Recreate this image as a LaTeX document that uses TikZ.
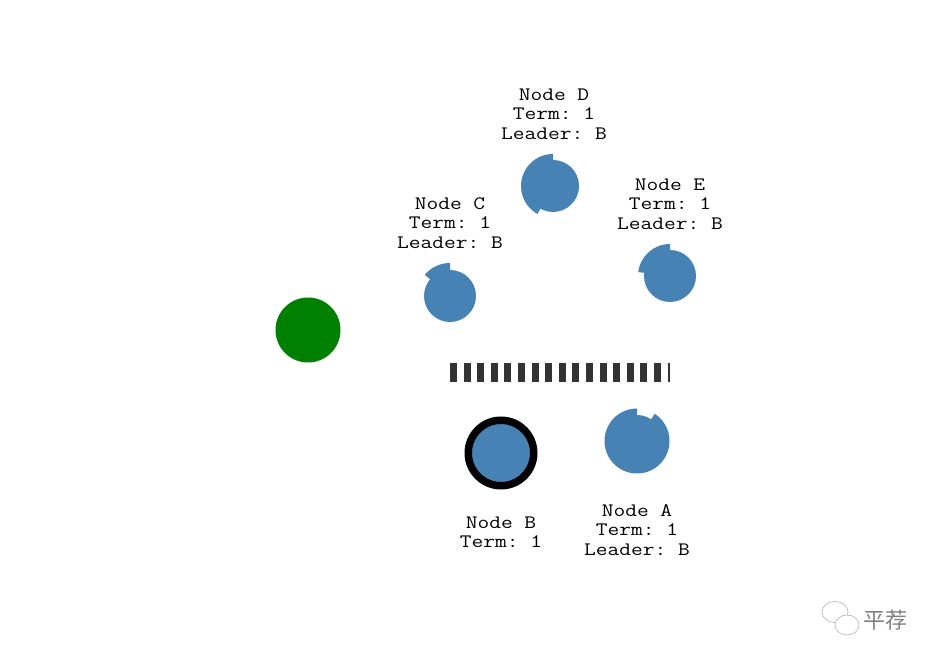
\documentclass[tikz,border=0pt]{standalone}
\usepackage{fontspec}
\newfontfamily\cjk{Noto Sans CJK SC}
\newfontfamily\labelmono[FakeStretch=1.2]{Latin Modern Mono}
\definecolor{steel}{HTML}{4682B4}
\definecolor{leadgreen}{HTML}{008000}
\definecolor{bardark}{HTML}{333333}
\begin{document}
\begin{tikzpicture}[x=1pt,y=1pt,
  srv/.style={circle, fill=steel, inner sep=0pt, minimum size=52pt},
  lbl/.style={align=center, font=\frenchspacing\labelmono\fontsize{19}{19.3}\selectfont, inner sep=0pt},
  timer/.style={fill=steel}]
\useasboundingbox (0,0) rectangle (939,660);
% candidate / green
\node[circle, fill=leadgreen, inner sep=0pt, minimum size=65pt] (g) at (308,330) {};
% followers
\node[srv] (C) at (450,364) {};
\fill[timer] (C.center) -- ++(90:33) arc[start angle=90, end angle=140, radius=33] -- cycle;
\node[srv] (D) at (553,474) {};
\fill[timer] (D.center) -- ++(90:32) arc[start angle=90, end angle=241, radius=32] -- cycle;
\node[srv] (E) at (670,384) {};
\fill[timer] (E.center) -- ++(90:32) arc[start angle=90, end angle=173, radius=32] -- cycle;
\node[srv] (A) at (637,219) {};
\fill[timer] (A.center) -- ++(90:32.5) arc[start angle=90, end angle=417, radius=32.5] -- cycle;
% leader
\node[circle, fill=steel, draw=black, line width=7.5pt, inner sep=0pt, minimum size=65.5pt] (B) at (501,207) {};
% message bar
\coordinate (bs) at (450,287);
\coordinate (be) at (670,287);
\draw[bardark, line width=19pt, dash pattern=on 7pt off 6.6pt] (bs) -- (be);
% labels
\node[lbl] (lD) at (554,546) {Node D\\Term: 1\\Leader: B};
\node[lbl] (lC) at (450,437) {Node C\\Term: 1\\Leader: B};
\node[lbl] (lE) at (670,456) {Node E\\Term: 1\\Leader: B};
\node[lbl] (lB) at (501,127.5) {Node B\\Term: 1};
\node[lbl] (lA) at (637,130) {Node A\\Term: 1\\Leader: B};
% watermark
\begin{scope}[gray!60, line width=0.6pt]
\draw (835,48) ellipse [x radius=13, y radius=10.5];
\fill[white] (847,35) ellipse [x radius=12, y radius=10];
\draw (847,35) ellipse [x radius=12, y radius=10];
\end{scope}
\node[font=\cjk\fontsize{22}{22}\selectfont, text=gray, inner sep=0pt] (wm) at (885,40) {平荐};
\end{tikzpicture}
\end{document}
